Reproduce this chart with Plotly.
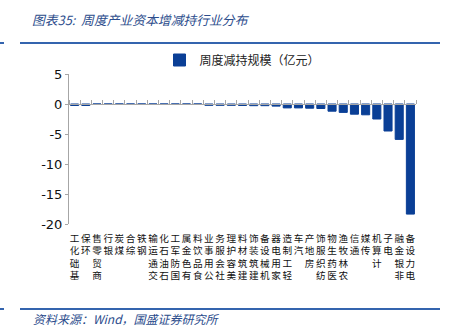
import plotly.graph_objects as go

categories = ["基础化工", "环保", "商贸零售", "银行", "煤炭", "综合", "钢铁", "交通运输",
              "石油石化", "国防军工", "有色金属", "食品饮料", "公用事业", "社会服务", "美容护理",
              "建筑材料", "建筑装饰", "机械设备", "家用电器", "轻工制造", "汽车", "房地产",
              "纺织服饰", "医药生物", "农林牧渔", "通信", "传媒", "计算机", "电子", "非银金融", "电力设备"]
values = [-0.25, -0.25, 0, 0, 0, 0, 0, 0, 0, 0, 0, 0, -0.22, -0.22, -0.22, -0.25, -0.28, -0.28,
          -0.35, -0.65, -0.65, -0.7, -0.75, -1.2, -1.4, -1.7, -1.8, -2.5, -4.5, -5.9, -18.35]
y_ticks = [5, 0, -5, -10, -15, -20]
series_name = "周度减持规模（亿元）"
title_text = "图表35:  周度产业资本增减持行业分布"
source_text = "资料来源：Wind，国盛证券研究所"

BLUE = "#0A3F96"
LINE_BLUE = "#3464AE"
GRAY = "#A6A6A6"

# stacked vertical labels reading bottom-to-top (last char at top)
tick_text = ["<br>".join(list(c)[::-1]) for c in categories]

fig = go.Figure()
fig.add_trace(go.Bar(x=categories, y=values, name=series_name, marker_color=BLUE,
                     marker_line=dict(color=BLUE, width=1),
                     width=0.72, showlegend=True))
# invisible trace for the zero-line category axis
fig.add_trace(go.Scatter(x=categories, y=[0] * len(categories), xaxis="x2", mode="markers",
                         marker=dict(opacity=0), showlegend=False, hoverinfo="skip"))

W, H = 456, 332
L, R, T, B = 69, 40, 74, 108
pw, ph = W - L - R, H - T - B

def px(x):
    return (x - L) / pw

def py(y):
    return (H - B - y) / ph

fig.update_layout(
    width=W, height=H,
    margin=dict(l=L, r=R, t=T, b=B),
    paper_bgcolor="white", plot_bgcolor="white",
    font=dict(family="Noto Sans CJK SC, DejaVu Sans", color="#222222"),
    legend=dict(orientation="h", x=0.5, xanchor="center", y=py(60), yanchor="middle",
                font=dict(size=12, color="#222222", family="Noto Sans CJK SC"),
                itemwidth=30, bgcolor="rgba(0,0,0,0)"),
    xaxis=dict(type="category", categoryorder="array", categoryarray=categories,
               range=[-0.5, len(categories) - 0.5],
               tickvals=categories, ticktext=tick_text, tickangle=0,
               tickfont=dict(size=9.6, family="Noto Sans CJK SC", color="#111111"),
               ticklabelstandoff=7,
               showline=False, ticks="", showgrid=False, fixedrange=True),
    xaxis2=dict(type="category", categoryorder="array", categoryarray=categories,
                range=[-0.5, len(categories) - 0.5], overlaying="x", anchor="free",
                position=(0 - (-20)) / 25, side="top", showline=True, linecolor=GRAY,
                linewidth=1, ticks="outside", ticklen=4, tickwidth=1, tickcolor=GRAY,
                tickson="boundaries", tickvals=categories, ticktext=[""] * len(categories),
                showticklabels=True, showgrid=False),
    yaxis=dict(range=[-20, 5], tickvals=y_ticks, ticktext=[str(v) for v in y_ticks],
               showline=True, linecolor=GRAY, linewidth=1, ticks="outside", ticklen=3,
               tickcolor=GRAY, showgrid=False, zeroline=False,
               tickfont=dict(size=13, family="DejaVu Sans", color="#111111")),
    shapes=[
        dict(type="line", xref="paper", yref="paper", x0=px(20), x1=px(440), y0=py(43), y1=py(43),
             line=dict(color=LINE_BLUE, width=2)),
        dict(type="line", xref="paper", yref="paper", x0=px(0), x1=px(4), y0=py(43), y1=py(43),
             line=dict(color=LINE_BLUE, width=2)),
        dict(type="line", xref="paper", yref="paper", x0=px(20), x1=px(440), y0=py(309), y1=py(309),
             line=dict(color=LINE_BLUE, width=2)),
        dict(type="line", xref="paper", yref="paper", x0=px(0), x1=px(4), y0=py(309), y1=py(309),
             line=dict(color=LINE_BLUE, width=2)),
    ],
    annotations=[
        dict(text="<i>" + title_text + "</i>", xref="paper", yref="paper", x=px(30), y=py(20),
             xanchor="left", yanchor="middle", showarrow=False,
             font=dict(size=12.8, color="#2B4C8C", family="Noto Sans CJK SC")),
        dict(text="<i>" + source_text + "</i>", xref="paper", yref="paper", x=px(31), y=py(318),
             xanchor="left", yanchor="middle", showarrow=False,
             font=dict(size=12, color="#2B4C8C", family="Noto Sans CJK SC")),
    ],
)

fig.write_html("out.html")
